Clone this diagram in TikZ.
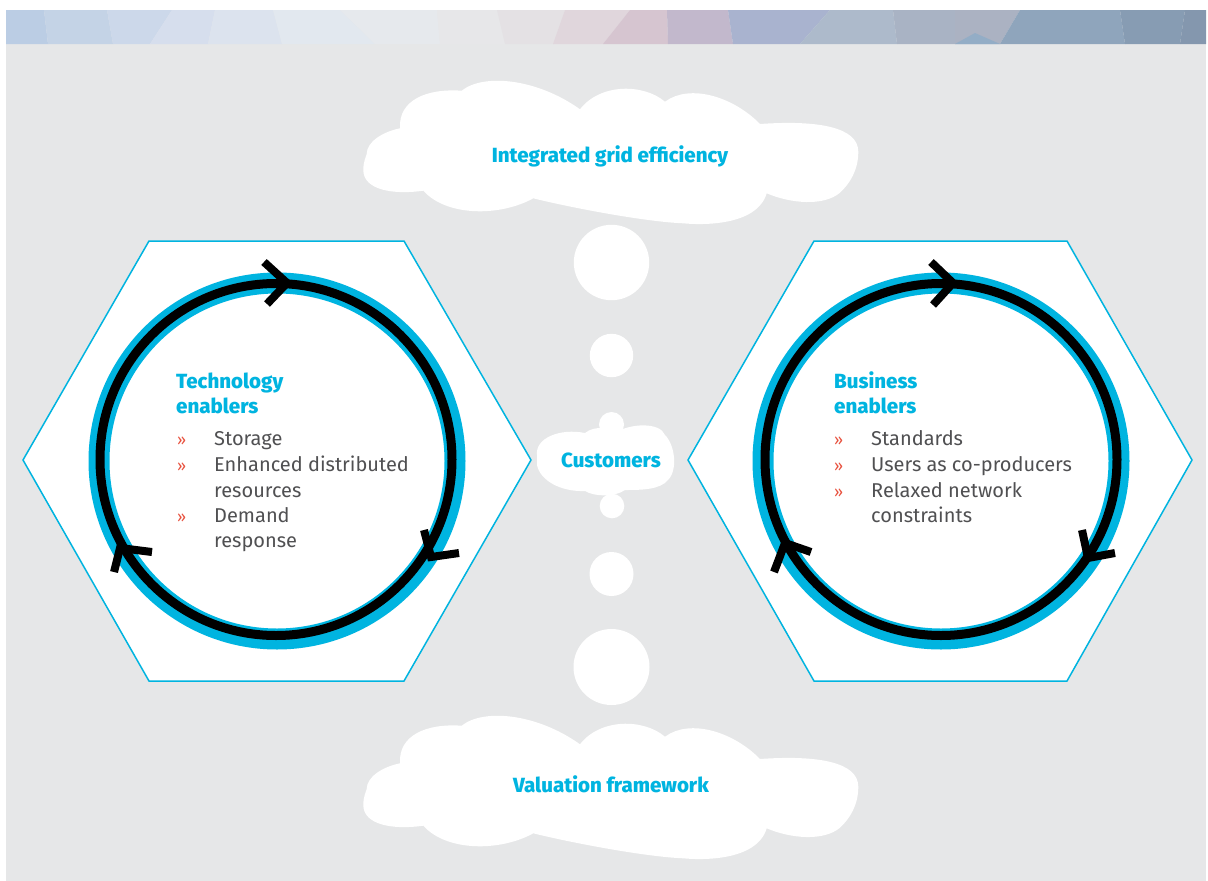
\documentclass[tikz,border=0pt]{standalone}
\usepackage{fontspec}
\setmainfont{Fira Sans}
\newfontfamily\heavyfont{Fira Sans ExtraBold}
\newfontfamily\bodyfont{Fira Sans}
\definecolor{bggray}{HTML}{E6E7E8}
\definecolor{cyanb}{HTML}{00B4E0}
\definecolor{txtgray}{HTML}{505052}
\definecolor{bulred}{HTML}{E8523F}
\begin{document}
\begin{tikzpicture}[x=1pt,y=-1pt,
  ring/.style={cyanb,line width=21pt},
  loopline/.style={black,line width=9pt},
  chev/.style={black,line width=8pt,line join=miter},
  hexa/.style={draw=cyanb,line width=1.5pt,fill=white},
  bubble/.style={fill=white},
  ttl/.style={anchor=base west,inner sep=0pt,text=cyanb,font=\fontsize{20.5}{24}\heavyfont},
  itm/.style={anchor=base west,inner sep=0pt,text=txtgray,font=\fontsize{20}{24}\bodyfont},
  bul/.style={anchor=base west,inner sep=0pt,text=bulred,font=\fontsize{16}{18}\bodyfont},
  cldtxt/.style={anchor=base,inner sep=0pt,text=cyanb,font=\fontsize{20.5}{24}\heavyfont}]
\useasboundingbox (0,0) rectangle (1208,881);
\fill[white] (0,0) rectangle (1208,881);
\fill[bggray] (6,10) rectangle (1206,881);
% banner mosaic
\fill[fill={rgb,255:red,187;green,205;blue,228}] (6,10) -- (44,10) -- (48,44) -- (6,44) -- cycle;
\fill[fill={rgb,255:red,196;green,211;blue,230}] (44,10) -- (107,10) -- (113,44) -- (48,44) -- cycle;
\fill[fill={rgb,255:red,204;green,216;blue,234}] (107,10) -- (172,10) -- (150,44) -- (113,44) -- cycle;
\fill[fill={rgb,255:red,214;green,222;blue,237}] (172,10) -- (215,10) -- (208,44) -- (150,44) -- cycle;
\fill[fill={rgb,255:red,220;green,227;blue,238}] (215,10) -- (273,10) -- (282,44) -- (208,44) -- cycle;
\fill[fill={rgb,255:red,226;green,232;blue,239}] (273,10) -- (340,10) -- (375,44) -- (282,44) -- cycle;
\fill[fill={rgb,255:red,230;green,233;blue,237}] (340,10) -- (437,10) -- (440,44) -- (375,44) -- cycle;
\fill[fill={rgb,255:red,231;green,231;blue,233}] (437,10) -- (497,10) -- (505,44) -- (440,44) -- cycle;
\fill[fill={rgb,255:red,228;green,225;blue,228}] (497,10) -- (565,10) -- (553,44) -- (505,44) -- cycle;
\fill[fill={rgb,255:red,224;green,214;blue,220}] (565,10) -- (630,10) -- (603,44) -- (553,44) -- cycle;
\fill[fill={rgb,255:red,214;green,197;blue,208}] (630,10) -- (667,10) -- (668,44) -- (603,44) -- cycle;
\fill[fill={rgb,255:red,194;green,184;blue,204}] (667,10) -- (728,10) -- (733,44) -- (668,44) -- cycle;
\fill[fill={rgb,255:red,169;green,179;blue,207}] (728,10) -- (830,10) -- (800,44) -- (733,44) -- cycle;
\fill[fill={rgb,255:red,173;green,186;blue,203}] (830,10) -- (893,10) -- (897,44) -- (800,44) -- cycle;
\fill[fill={rgb,255:red,169;green,179;blue,196}] (893,10) -- (955,10) -- (955,44) -- (897,44) -- cycle;
\fill[fill={rgb,255:red,171;green,178;blue,194}] (955,10) -- (1020,10) -- (1000,44) -- (955,44) -- cycle;
\fill[fill={rgb,255:red,147;green,173;blue,198}] (955,44) -- (1000,44) -- (975,33) -- cycle;
\fill[fill={rgb,255:red,143;green,165;blue,188}] (1020,10) -- (1120,10) -- (1125,44) -- (1000,44) -- cycle;
\fill[fill={rgb,255:red,135;green,156;blue,179}] (1120,10) -- (1185,10) -- (1180,44) -- (1125,44) -- cycle;
\fill[fill={rgb,255:red,132;green,151;blue,174}] (1185,10) -- (1206,10) -- (1206,44) -- (1180,44) -- cycle;
% clouds
\foreach \dy in {0,635} {
\fill[white,shift={(0,\dy)}] (366.7,154) .. controls (366.7,141.7) and (383,131.7) .. (400,128.3)
  .. controls (398.3,100) and (426.7,88.3) .. (461.7,90.7)
  .. controls (483.3,73.3) and (536.7,78.3) .. (580,109.3)
  .. controls (600,83.3) and (643.3,83.3) .. (665,101.7)
  .. controls (690,83.3) and (733.3,96.7) .. (760,124)
  .. controls (816.7,120) and (858.3,126.7) .. (858.3,151.7)
  .. controls (858.3,170) and (850,183.3) .. (840,192.7)
  .. controls (823.3,206.7) and (790,203.3) .. (766.7,193.3)
  .. controls (756.7,226.7) and (700,225) .. (683.3,223.3)
  .. controls (643.3,221.7) and (566.7,206.7) .. (533.3,198.3)
  .. controls (500,216.7) and (446.7,216.7) .. (423.3,190.7)
  .. controls (393.3,195) and (363.3,190) .. (363.3,170)
  .. controls (363.3,161.7) and (366,156.7) .. (366.7,154) -- cycle;
}
% customers cloud
\fill[white] (537,455) .. controls (535,438) and (560,428) .. (585,433)
  .. controls (595,425) and (610,428) .. (615,433)
  .. controls (630,423) and (660,422) .. (665,435)
  .. controls (675,445) and (678,470) .. (668,480)
  .. controls (660,490) and (640,490) .. (625,490)
  .. controls (615,497) and (595,497) .. (585,491)
  .. controls (560,492) and (540,480) .. (537,465) -- cycle;
% bubbles
\fill[bubble] (611.5,262.5) circle[radius=37.7];
\fill[bubble] (611.5,355.5) circle[radius=21.7];
\fill[bubble] (611.5,424.5) circle[radius=12.5];
\fill[bubble] (612,506) circle[radius=12.3];
\fill[bubble] (611.5,574) circle[radius=22];
\fill[bubble] (611.5,667) circle[radius=38];
% hexagons
\draw[hexa] (149,241) -- (404,241) -- (531,460) -- (404,681) -- (149,681) -- (23,460) -- cycle;
\draw[hexa] (814,241) -- (1067,241) -- (1192,460) -- (1067,681) -- (814,681) -- (688,460) -- cycle;
% rings
\draw[ring] (277,461) circle[radius=178];
\draw[ring] (941,461) circle[radius=178];
\draw[loopline] (276,459.5) circle[radius=176];
\draw[loopline] (941,459.5) circle[radius=176];
% chevrons
\draw[chev] (264,262) -- (287,283) -- (267,304);
\draw[chev] (424,530) -- (431,557) -- (459,553);
\draw[chev] (152,552) -- (120,548) -- (114,572);
\draw[chev] (931,262) -- (953,283) -- (933,305);
\draw[chev] (1082,530) -- (1088,558) -- (1115,553);
\draw[chev] (811,552) -- (785,543) -- (774,572);
% cloud texts
\node[cldtxt] (top) at (610,162) {Integrated grid efficiency};
\node[cldtxt] (cust) at (611,467) {Customers};
\node[cldtxt] (val) at (611,792) {Valuation framework};
% left block
\node[ttl] (lt1) at (176,388) {Technology};
\node[ttl] (lt2) at (176,413) {enablers};
\node[bul] (lb1) at (177,445) {»};
\node[bul] (lb2) at (177,471) {»};
\node[bul] (lb3) at (177,522) {»};
\node[itm] (li1) at (214,445) {Storage};
\node[itm] (li2) at (214,471) {Enhanced distributed};
\node[itm] (li3) at (214,497) {resources};
\node[itm] (li4) at (214,522) {Demand};
\node[itm] (li5) at (214,547) {response};
% right block
\node[ttl] (rt1) at (834,388) {Business};
\node[ttl] (rt2) at (834,413) {enablers};
\node[bul] (rb1) at (834,445) {»};
\node[bul] (rb2) at (834,471) {»};
\node[bul] (rb3) at (834,497) {»};
\node[itm] (ri1) at (871,445) {Standards};
\node[itm] (ri2) at (871,471) {Users as co-producers};
\node[itm] (ri3) at (871,497) {Relaxed network};
\node[itm] (ri4) at (871,522) {constraints};
\end{tikzpicture}
\end{document}
